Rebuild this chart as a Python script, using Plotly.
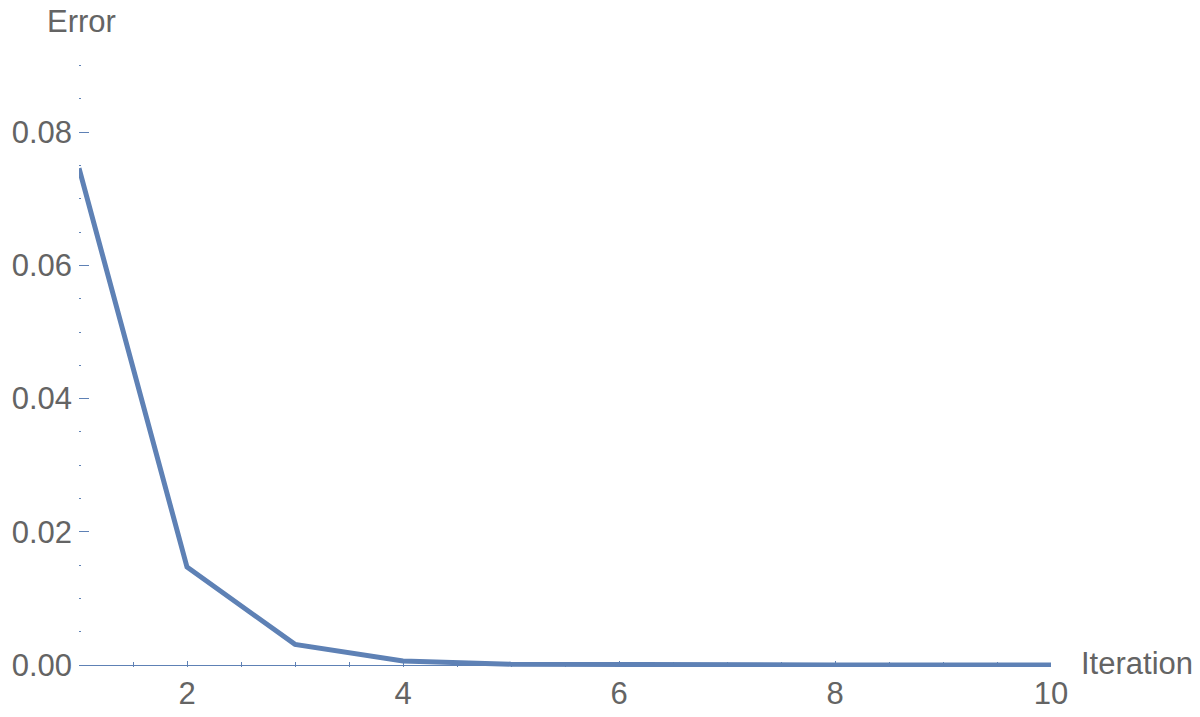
import plotly.graph_objects as go

iterations = [1, 2, 3, 4, 5, 6, 7, 8, 9, 10]
errors = [0.0746, 0.0147, 0.0031, 0.0006, 0.00012, 0.00002, 0.000005, 0.000001, 0.0000002, 0.00000004]

x_tick_vals = [2, 4, 6, 8, 10]
x_tick_text = ["2", "4", "6", "8", "10"]
y_tick_vals = [0.0, 0.02, 0.04, 0.06, 0.08]
y_tick_text = ["0.00", "0.02", "0.04", "0.06", "0.08"]

line_color = "#5E81B5"
text_color = "#646464"
font_family = "Liberation Sans, Arial, sans-serif"

fig = go.Figure()
fig.add_trace(go.Scatter(
    x=iterations, y=errors, mode="lines",
    line=dict(color=line_color, width=5),
    showlegend=False,
))

fig.update_layout(
    width=1200, height=717,
    margin=dict(l=79, r=149, t=55, b=50, autoexpand=False),
    paper_bgcolor="white", plot_bgcolor="white",
    font=dict(family=font_family, size=31, color=text_color),
    xaxis=dict(
        range=[1, 10], automargin=False,
        tickvals=x_tick_vals, ticktext=x_tick_text,
        ticks="inside", ticklen=6, tickcolor=line_color, tickwidth=1,
        minor=dict(dtick=0.5, tick0=1, ticks="inside", ticklen=5, tickcolor=line_color, tickwidth=1, showgrid=False),
        showgrid=False, zeroline=False, showline=False,
        tickfont=dict(size=31, color=text_color),
        ticklabelstandoff=5,
    ),
    yaxis=dict(
        range=[-0.0003, 0.0916], automargin=False,
        tickvals=y_tick_vals, ticktext=y_tick_text,
        ticks="inside", ticklen=10, tickcolor=line_color, tickwidth=1,
        minor=dict(dtick=0.005, tick0=0, ticks="inside", ticklen=2, tickcolor=line_color, tickwidth=1, showgrid=False),
        showgrid=False, showline=False,
        zeroline=True, zerolinecolor=line_color, zerolinewidth=1,
        tickfont=dict(size=31, color=text_color),
        ticklabelstandoff=6,
    ),
    annotations=[
        dict(text="Error", xref="paper", yref="paper", x=0.0, y=1.0,
             xanchor="center", yanchor="middle", xshift=2, yshift=34, showarrow=False,
             font=dict(size=31, color=text_color, family=font_family)),
        dict(text="Iteration", xref="paper", yref="y", x=1.0, y=0.0,
             xanchor="left", yanchor="middle", xshift=28, yshift=2, showarrow=False,
             font=dict(size=31, color=text_color, family=font_family)),
    ],
)

fig.write_html("out.html", config={"displayModeBar": False},
               post_script="document.body.style.margin='0px';")
